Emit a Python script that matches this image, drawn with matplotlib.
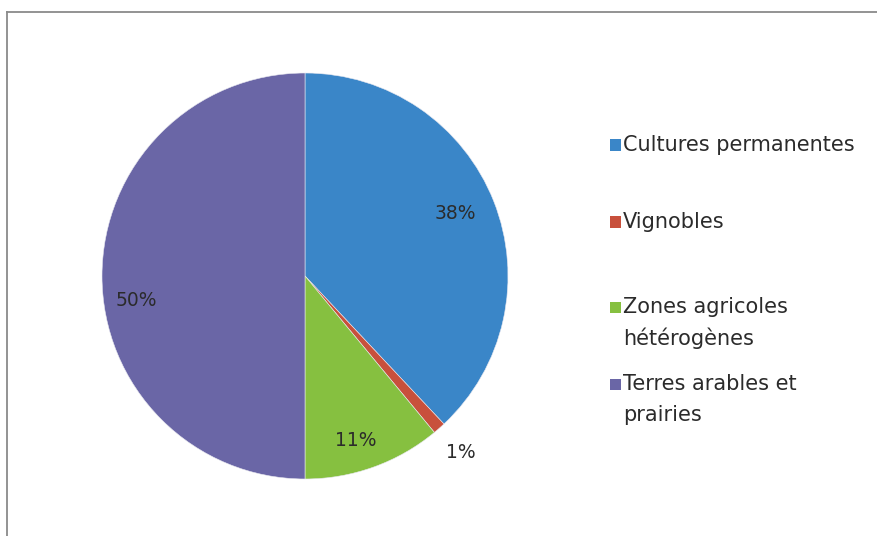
import matplotlib
matplotlib.use("Agg")
import matplotlib.pyplot as plt
from matplotlib.patches import Rectangle
from matplotlib.lines import Line2D

# Répartition des surfaces agricoles (%)
categories = ["Cultures permanentes", "Vignobles",
              "Zones agricoles\nhétérogènes", "Terres arables et\nprairies"]
values = [38, 1, 11, 50]
colors = ["#3A86C8", "#C8503C", "#86C040", "#6A66A6"]
pct_labels = ["38%", "1%", "11%", "50%"]
# label positions in pie data coordinates (radius = 1)
label_pos = [(0.74, 0.31), (0.77, -0.87), (0.25, -0.81), (-0.83, -0.12)]

plt.rcParams["font.family"] = ["DejaVu Sans"]
text_color = "#2b2b2b"

fig = plt.figure(figsize=(8.77, 5.36), dpi=100)
fig.patch.set_facecolor("white")

# chart frame (left and top edges)
fig.add_artist(Line2D([7 / 877, 7 / 877], [0, 1 - 12 / 536],
                      color="#8a8a8a", lw=1.3, transform=fig.transFigure))
fig.add_artist(Line2D([7 / 877, 1], [1 - 12 / 536, 1 - 12 / 536],
                      color="#8a8a8a", lw=1.3, transform=fig.transFigure))

cx, cy, r = 305, 276, 203
ax = fig.add_axes([(cx - r) / 877, (536 - cy - r) / 536, 2 * r / 877, 2 * r / 536])
wedges, _ = ax.pie(values, colors=colors, startangle=90, counterclock=False,
                   radius=1.0, wedgeprops=dict(linewidth=0.4, edgecolor="#e8e8f0"))
ax.set_xlim(-1, 1)
ax.set_ylim(-1, 1)
ax.set_aspect("auto")
ax.axis("off")

for lab, (x, y) in zip(pct_labels, label_pos):
    ax.text(x, y, lab, ha="center", va="center", fontsize=13.5, color=text_color)

# legend on the right
legend_rows = [145, 222, 307, 384]
line_gap = 31
for name, col, yrow in zip(categories, colors, legend_rows):
    fig.add_artist(Rectangle((610 / 877, 1 - (yrow + 5.5) / 536), 11 / 877, 11 / 536,
                             facecolor=col, edgecolor="none",
                             transform=fig.transFigure))
    for i, line in enumerate(name.split("\n")):
        fig.text(623 / 877, 1 - (yrow + i * line_gap) / 536, line,
                 ha="left", va="center", fontsize=15, color=text_color)

fig.savefig("out.png", dpi=100, facecolor="white")
